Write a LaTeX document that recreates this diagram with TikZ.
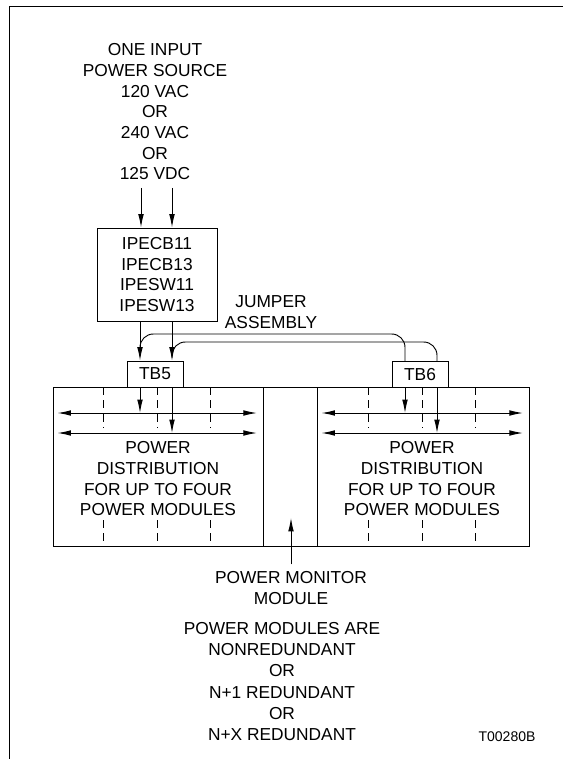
\documentclass[tikz,border=0pt]{standalone}
\usepackage{fontspec}
\setmainfont{Liberation Sans}
\usetikzlibrary{arrows.meta,positioning}

\begin{document}
\begin{tikzpicture}[
    x=0.75pt, y=-0.75pt, line width=0.7pt,
    lbl/.style={align=center, inner sep=0pt, font=\fontsize{13}{15.5}\selectfont},
    note/.style={align=center, inner sep=0pt, font=\fontsize{13}{16}\selectfont},
    tbbox/.style={draw, minimum width=42pt, minimum height=19.5pt, inner sep=0pt, font=\fontsize{13}{14}\selectfont},
    section/.style={draw, minimum height=119.25pt, inner sep=0pt},
    arr/.style={-{Latex[length=10pt, width=4.2pt]}},
    dblarr/.style={{Latex[length=10pt, width=4.2pt]}-{Latex[length=10pt, width=4.2pt]}},
    divider/.style={dash pattern=on 6pt off 4pt}
  ]
    \useasboundingbox (0,0) rectangle (563,759);
    % page frame
    \draw (9,759) -- (9,6) -- (563,6);

    % input source and breaker
    \node[lbl] (src) at (155,112) {ONE INPUT\\POWER SOURCE\\120 VAC\\OR\\240 VAC\\OR\\125 VDC};
    \node[draw, lbl, minimum width=90pt, minimum height=69.75pt] (brk) at (157,274.5) {IPECB11\\IPECB13\\IPESW11\\IPESW13};
    \coordinate (ina) at (141,188);
    \coordinate (inb) at (172,188);
    \draw[arr] (ina) -- (ina |- brk.north);
    \draw[arr] (inb) -- (inb |- brk.north);

    % terminal blocks
    \node[tbbox] (tb5) at (155,374) {TB5};
    \node[tbbox] (tb6) at (420,374.5) {TB6};
    \coordinate (wa) at (140,0);
    \coordinate (wb) at (172,0);
    \coordinate (wc) at (405,0);
    \coordinate (wd) at (437,0);
    \draw[arr] (brk.south -| wa) -- (tb5.north -| wa);
    \draw[arr] (brk.south -| wb) -- (tb5.north -| wb);

    % jumper assembly
    \coordinate (ja) at (140,334);
    \coordinate (jb) at (172,342);
    \draw[rounded corners=10pt] ([yshift=-14pt]ja) -- (ja) -- (ja -| wc) -- (tb6.north -| wc);
    \draw[rounded corners=10pt] ([yshift=-12pt]jb) -- (jb) -- (jb -| wd) -- (tb6.north -| wd);
    \node[lbl] (jmp) at (271,312) {JUMPER\\ASSEMBLY};

    % distribution sections and monitor slot
    \node[section, minimum width=157.5pt] (sec1) at (158,466.5) {};
    \node[section, minimum width=40.5pt] (mon) at (290,466.5) {};
    \node[section, minimum width=159pt] (sec2) at (423,466.5) {};
    \foreach \x in {103,157,210,368,422,475} {
      \draw[divider] (\x,387) -- (\x,428);
      \draw[divider] (\x,520) -- (\x,546);
    }
    \coordinate (bus1) at (0,413);
    \coordinate (bus2) at (0,433);
    \foreach \s in {sec1,sec2} {
      \draw[dblarr] ([xshift=3.75pt]\s.west |- bus1) -- ([xshift=-5pt]\s.east |- bus1);
      \draw[dblarr] ([xshift=3.75pt]\s.west |- bus2) -- ([xshift=-5pt]\s.east |- bus2);
    }
    \draw[arr] (tb5.south -| wa) -- (bus1 -| wa);
    \draw[arr] (tb5.south -| wb) -- (bus2 -| wb);
    \draw[arr] (tb6.south -| wc) -- (bus1 -| wc);
    \draw[arr] (tb6.south -| wd) -- (bus2 -| wd);
    \node[lbl] (pd1) at (158,479) {POWER\\DISTRIBUTION\\FOR UP TO FOUR\\POWER MODULES};
    \node[lbl] (pd2) at (422,479) {POWER\\DISTRIBUTION\\FOR UP TO FOUR\\POWER MODULES};

    % monitor label
    \node[lbl] (monlbl) at (291,588) {POWER MONITOR\\MODULE};
    \coordinate (montip) at (291,518);
    \draw[arr] ([yshift=5pt]monlbl.north) -- (montip);

    % redundancy note
    \node[note] (red) at (282,681.5) {POWER MODULES ARE\\NONREDUNDANT\\OR\\N+1 REDUNDANT\\OR\\N+X REDUNDANT};
    \node[inner sep=0pt, font=\fontsize{10.5}{12}\selectfont] (fig) at (507,737) {T00280B};
  \end{tikzpicture}
\end{document}
